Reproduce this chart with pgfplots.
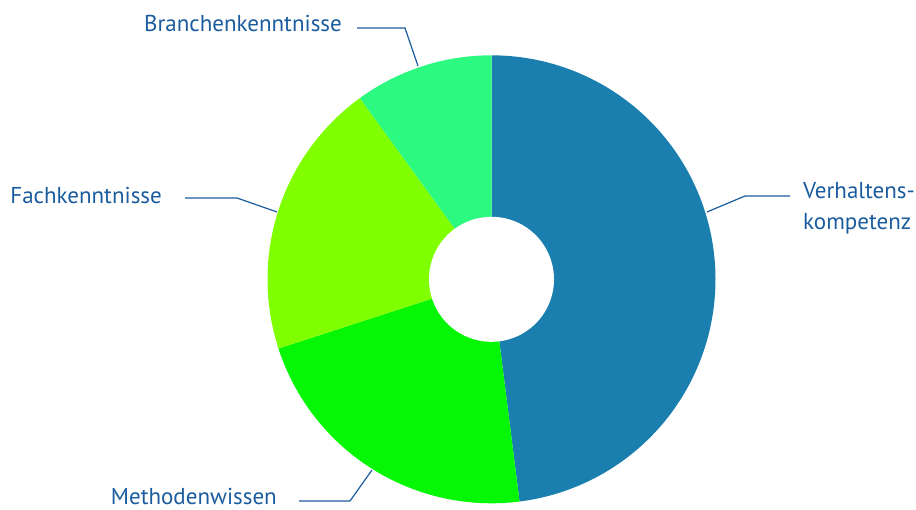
\documentclass[border=0pt]{standalone}
\usepackage{pgfplots}
\pgfplotsset{compat=1.18}
\usepackage{fontspec}
\setmainfont{PT Sans}
\definecolor{cV}{HTML}{1A7EAE}
\definecolor{cM}{HTML}{05F705}
\definecolor{cF}{HTML}{80FF00}
\definecolor{cB}{HTML}{2CFA80}
\definecolor{txt}{HTML}{1B5C9E}
\begin{document}
\begin{tikzpicture}
% shares in percent
\def\vV{48}\def\vM{22}\def\vF{20}\def\vB{10}
\pgfmathsetmacro\aA{90}
\pgfmathsetmacro\aB{\aA-\vV*3.6}
\pgfmathsetmacro\aC{\aB-\vM*3.6}
\pgfmathsetmacro\aD{\aC-\vF*3.6}
\pgfmathsetmacro\aE{\aD-\vB*3.6}
\def\cx{491.5}\def\cy{229.7}\def\R{224}\def\r{62.5}
\begin{axis}[x=1pt,y=1pt,xmin=0,xmax=916,ymin=0,ymax=509,hide axis,clip=false,
  scale only axis]
\path (axis cs:0,0) rectangle (axis cs:916,509);
\addplot[fill=cV,draw=none,domain=\aB:\aA,samples=120,variable=\t]
  ({\cx+\R*cos(\t)},{\cy+\R*sin(\t)}) -- (axis cs:\cx,\cy) -- cycle;
\addplot[fill=cM,draw=none,domain=\aC:\aB,samples=80,variable=\t]
  ({\cx+\R*cos(\t)},{\cy+\R*sin(\t)}) -- (axis cs:\cx,\cy) -- cycle;
\addplot[fill=cF,draw=none,domain=\aD:\aC,samples=80,variable=\t]
  ({\cx+\R*cos(\t)},{\cy+\R*sin(\t)}) -- (axis cs:\cx,\cy) -- cycle;
\addplot[fill=cB,draw=none,domain=\aE:\aD,samples=60,variable=\t]
  ({\cx+\R*cos(\t)},{\cy+\R*sin(\t)}) -- (axis cs:\cx,\cy) -- cycle;
\addplot[fill=white,draw=none,domain=0:360,samples=100,variable=\t]
  ({\cx+\r*cos(\t)},{\cy+\r*sin(\t)}) -- cycle;
% leader lines
\draw[txt,line width=1.2pt] (axis cs:357,481) -- (axis cs:405,481) -- (axis cs:418,443);
\draw[txt,line width=1.2pt] (axis cs:185,311) -- (axis cs:237,311) -- (axis cs:277,297);
\draw[txt,line width=1.2pt] (axis cs:790,313) -- (axis cs:745,313) -- (axis cs:707,297);
\draw[txt,line width=1.2pt] (axis cs:299,8) -- (axis cs:350,8) -- (axis cs:372,39);
% labels
\begin{scope}[every node/.style={inner sep=0pt,text=txt,font=\fontsize{23}{28}\selectfont}]
\node[anchor=base east] at (axis cs:342,477.3) {Branchenkenntnisse};
\node[anchor=base east] at (axis cs:162,305.7) {Fachkenntnisse};
\node[anchor=base east] at (axis cs:277,5) {Methodenwissen};
\node[anchor=base west] at (axis cs:803,310.7) {Verhaltens-};
\node[anchor=base west] at (axis cs:803,279.7) {kompetenz};
\end{scope}
\end{axis}
\end{tikzpicture}
\end{document}
